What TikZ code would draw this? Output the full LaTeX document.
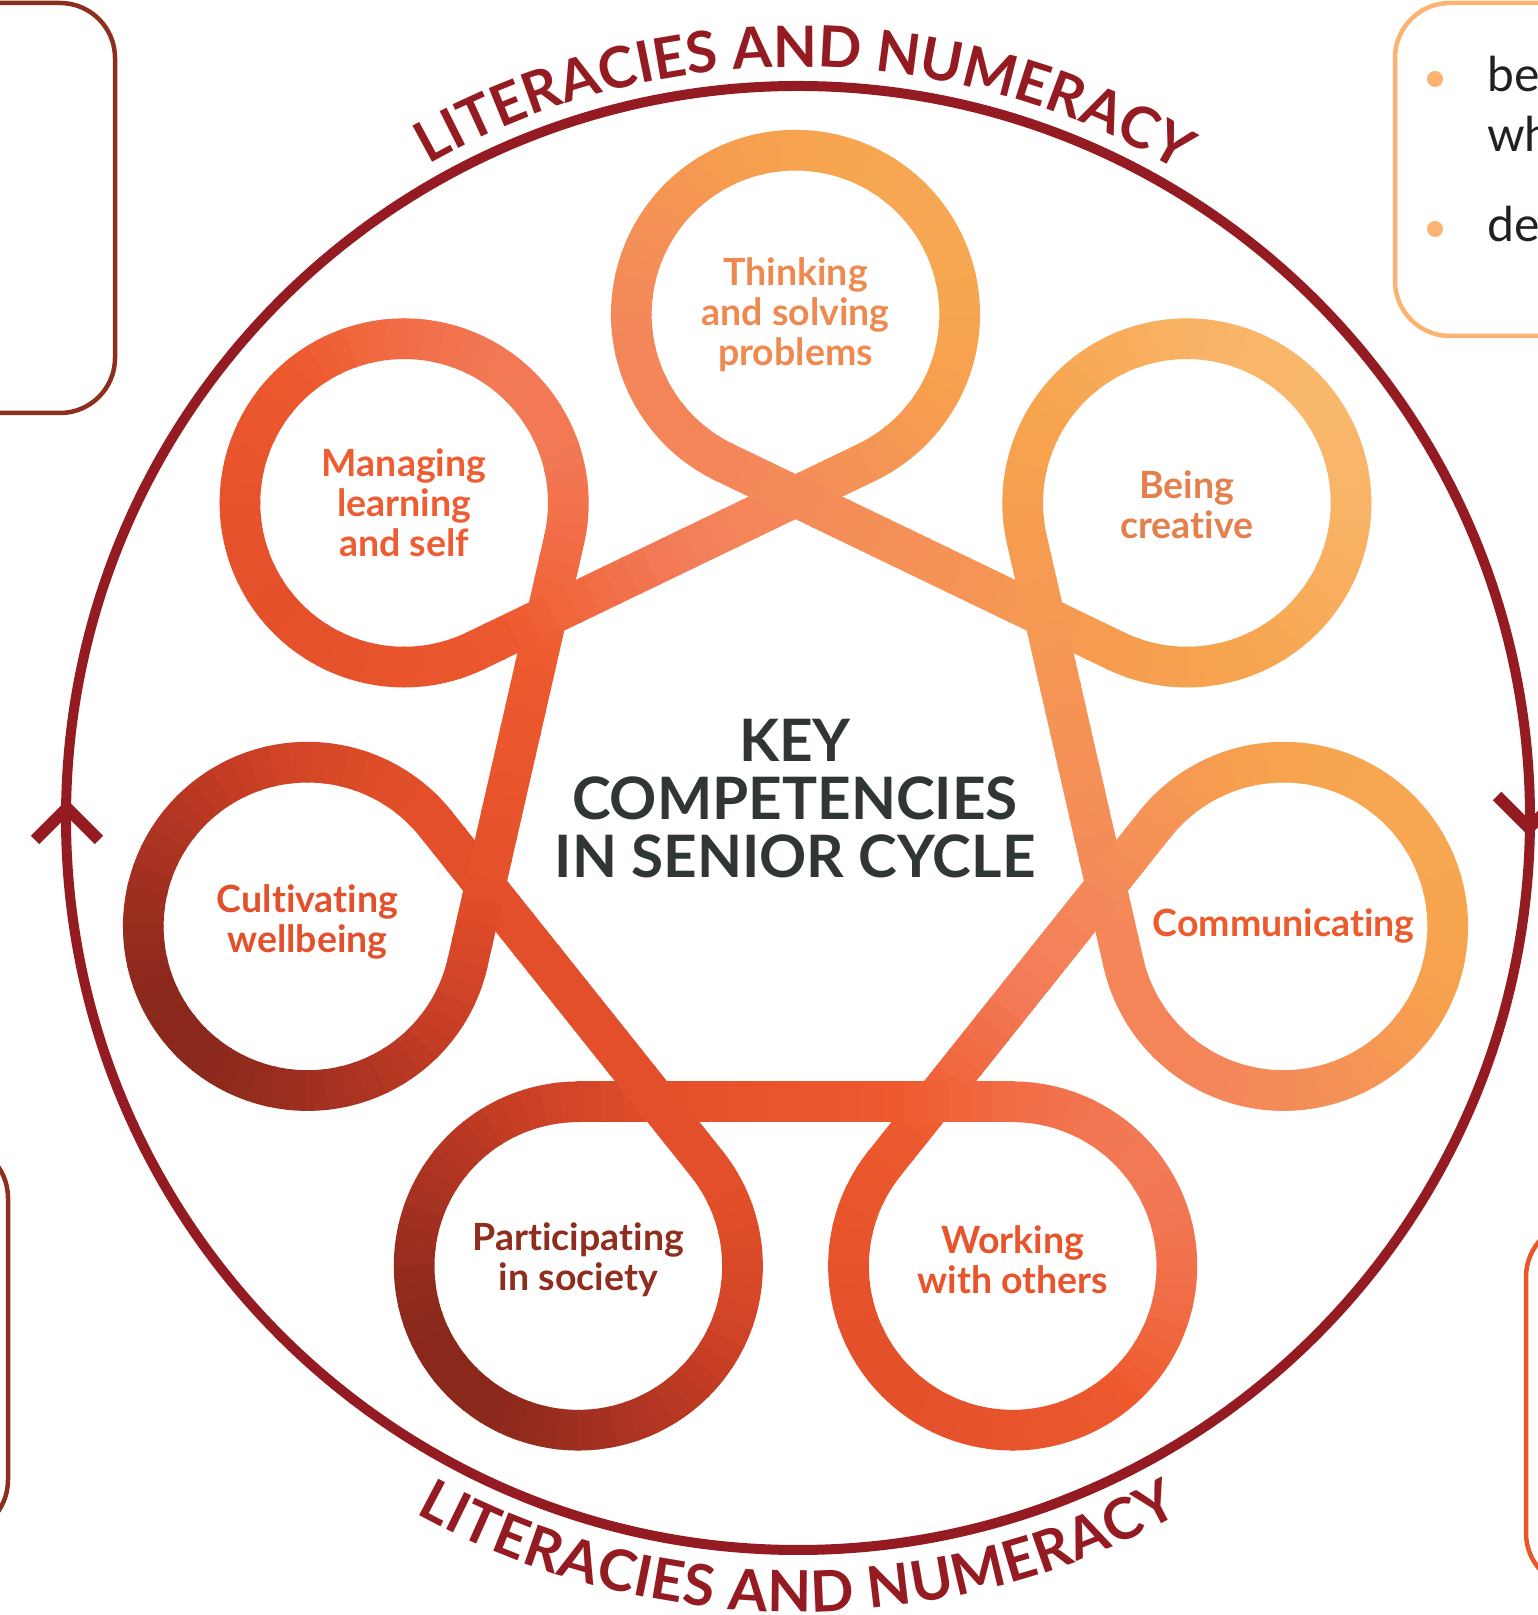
\documentclass[tikz,border=0pt]{standalone}
\usepackage{fontspec}
\setmainfont{Lato}[Ligatures=NoCommon]
\usetikzlibrary{decorations.text}
\definecolor{litred}{HTML}{951B22}
\definecolor{boxbrown}{HTML}{8C2F1D}
\definecolor{boxorange}{HTML}{FBB371}
\definecolor{boxred}{HTML}{E8562A}
\definecolor{titlegray}{HTML}{2F3635}
\definecolor{bodytext}{HTML}{231F20}
\definecolor{cThink}{HTML}{EE8A50}
\definecolor{cCreat}{HTML}{E5804C}
\definecolor{cComm}{HTML}{EC5B2E}
\definecolor{cWork}{HTML}{E8542B}
\definecolor{cPart}{HTML}{8F2D1E}
\definecolor{cCult}{HTML}{E2502C}
\definecolor{cMan}{HTML}{EE5C32}
% gradient stops of the ribbon
\definecolor{g0}{HTML}{7A2318}
\definecolor{g1}{HTML}{9E2F20}
\definecolor{g2}{HTML}{C43C24}
\definecolor{g3}{HTML}{E4502A}
\definecolor{g4}{HTML}{EE5A2E}
\definecolor{g5}{HTML}{F37B58}
\definecolor{g6}{HTML}{F48A5A}
\definecolor{g7}{HTML}{F6A04F}
\definecolor{g8}{HTML}{F7A54F}
\definecolor{g9}{HTML}{F9B86E}
\def\Ox{795.5}\def\Oy{800}\def\Rc{500.6}\def\rr{164.2}
\newcommand\mixrc[4]{\pgfmathsetmacro\rcp{(\sv-(#3))/((#4)-(#3))*100}\colorlet{rc}{#2!\rcp!#1}}
\newcommand\setrc[1]{%
 \pgfmathsetmacro\sv{max(-654,min(679,#1))}%
 \ifdim\sv pt<-560pt \mixrc{g0}{g1}{-655}{-560}\else
 \ifdim\sv pt<-420pt \mixrc{g1}{g2}{-560}{-420}\else
 \ifdim\sv pt<-280pt \mixrc{g2}{g3}{-420}{-280}\else
 \ifdim\sv pt<-105pt \mixrc{g3}{g4}{-280}{-105}\else
 \ifdim\sv pt<65pt \mixrc{g4}{g5}{-105}{65}\else
 \ifdim\sv pt<195pt \mixrc{g5}{g6}{65}{195}\else
 \ifdim\sv pt<380pt \mixrc{g6}{g7}{195}{380}\else
 \ifdim\sv pt<450pt \mixrc{g7}{g8}{380}{450}\else
 \mixrc{g8}{g9}{450}{680}\fi\fi\fi\fi\fi\fi\fi\fi}
\newcommand\ribseg[4]{%
 \foreach \j in {1,...,10}{%
  \pgfmathsetmacro\rsA{(\j-1)/10-0.006}%
  \pgfmathsetmacro\rsB{\j/10+0.006}%
  \pgfmathsetmacro\rsM{(\j-0.5)/10}%
  \pgfmathsetmacro\xa{(#1)+((#3)-(#1))*\rsA}%
  \pgfmathsetmacro\ya{(#2)+((#4)-(#2))*\rsA}%
  \pgfmathsetmacro\xb{(#1)+((#3)-(#1))*\rsB}%
  \pgfmathsetmacro\yb{(#2)+((#4)-(#2))*\rsB}%
  \pgfmathsetmacro\xm{(#1)+((#3)-(#1))*\rsM}%
  \pgfmathsetmacro\ym{(#2)+((#4)-(#2))*\rsM}%
  \setrc{0.778*(\xm-\Ox)+0.628*(\ym-\Oy)}%
  \draw[rib,draw=rc] (\xa,\ya) -- (\xb,\yb);
 }}
\newcommand\littext{\fontsize{57}{57}\selectfont\bfseries\color{litred}}
\tikzset{
 rib/.style={line width=40.7pt, line cap=butt},
 sidebox/.style={line width=4.5pt, rounded corners=55pt},
 lab/.style={font=\bfseries\fontsize{37.5}{40}\selectfont, align=center, inner sep=0pt},
 arrowmark/.style={litred, line width=12pt, line join=miter, line cap=butt},
 bodyline/.style={font=\fontsize{48}{60}\selectfont, text=bodytext, anchor=base west, inner sep=0pt}
}
\begin{document}
\begin{tikzpicture}[x=1pt,y=1pt]
\useasboundingbox (0,0) rectangle (1538,1615);
% side boxes (cut by the page edges)
\draw[sidebox, boxbrown] (-300,1612) rectangle (115,1202);
\draw[sidebox, boxorange] (1395,1612) rectangle (1900,1279);
\draw[sidebox, boxbrown] (-300,472) rectangle (8,80);
\draw[sidebox, boxred] (1526,393) rectangle (1900,27);
% bullets in the top-right box
\fill[boxorange] (1435,1536) circle[radius=8];
\fill[boxorange] (1435,1386) circle[radius=8];
\node[bodyline] (tb1) at (1487,1523) {be};
\node[bodyline] (tb2) at (1487,1463) {wh};
\node[bodyline] (tb3) at (1487,1373) {de};
% big circle with arrow marks
\draw[litred, line width=10pt] (798,797) circle[radius=732];
\coordinate (la1) at (35,775); \coordinate (la2) at (67,807); \coordinate (la3) at (99,775);
\draw[arrowmark] (la1) -- (la2) -- (la3);
\coordinate (ra1) at (1497,819); \coordinate (ra2) at (1529,787); \coordinate (ra3) at (1561,819);
\draw[arrowmark] (ra1) -- (ra2) -- (ra3);
% curved texts
\path[decorate, decoration={text along path, text={|\littext|LITERACIES AND NUMERACY}, text align={fit to path}}]
  (798,797) ++(119.5:751) arc[start angle=119.5, end angle=60.5, radius=751];
\path[decorate, decoration={text along path, text={|\littext|LITERACIES AND NUMERACY}, text align={fit to path}}]
  (798,797) ++(241.2:794) arc[start angle=241.2, end angle=298.8, radius=794];
% ribbon
\foreach \k in {0,...,6}{%
  \pgfmathsetmacro\ph{90-\k*360/7}%
  \pgfmathsetmacro\cx{\Ox+\Rc*cos(\ph)}%
  \pgfmathsetmacro\cy{\Oy+\Rc*sin(\ph)}%
  \pgfmathsetmacro\pcx{\Ox+\Rc*cos(\ph+360/7)}%
  \pgfmathsetmacro\pcy{\Oy+\Rc*sin(\ph+360/7)}%
  \pgfmathsetmacro\ncx{\Ox+\Rc*cos(\ph-360/7)}%
  \pgfmathsetmacro\ncy{\Oy+\Rc*sin(\ph-360/7)}%
  \pgfmathsetmacro\dxi{\rr*cos(\ph+205.7143)}%
  \pgfmathsetmacro\dyi{\rr*sin(\ph+205.7143)}%
  \pgfmathsetmacro\mix{(\pcx+\cx)/2+\dxi}%
  \pgfmathsetmacro\miy{(\pcy+\cy)/2+\dyi}%
  \pgfmathsetmacro\tix{\cx+\dxi}%
  \pgfmathsetmacro\tiy{\cy+\dyi}%
  \ribseg{\mix}{\miy}{\tix}{\tiy}%
  \foreach \i in {1,...,48}{%
    \pgfmathsetmacro\angA{\ph+205.7143+(\i-1)*6.428571-0.35}%
    \pgfmathsetmacro\angB{\ph+205.7143+\i*6.428571+0.35}%
    \pgfmathsetmacro\angM{(\angA+\angB)/2}%
    \setrc{0.778*(\cx+\rr*cos(\angM)-\Ox)+0.628*(\cy+\rr*sin(\angM)-\Oy)}%
    \draw[rib,draw=rc] ({\cx+\rr*cos(\angA)},{\cy+\rr*sin(\angA)}) arc[start angle=\angA,end angle=\angB,radius=\rr];
  }%
  \pgfmathsetmacro\dxo{\rr*cos(\ph+154.2857)}%
  \pgfmathsetmacro\dyo{\rr*sin(\ph+154.2857)}%
  \pgfmathsetmacro\tox{\cx+\dxo}%
  \pgfmathsetmacro\toy{\cy+\dyo}%
  \pgfmathsetmacro\mox{(\ncx+\cx)/2+\dxo}%
  \pgfmathsetmacro\moy{(\ncy+\cy)/2+\dyo}%
  \ribseg{\tox}{\toy}{\mox}{\moy}%
}
% labels
\node[lab, text=cThink] (think) at (795.5,1300.6) {Thinking\\and solving\\problems};
\node[lab, text=cCreat] (creat) at (1186.9,1110) {Being\\creative};
\node[lab, text=cComm] (comm) at (1283.5,688.6) {Communicating};
\node[lab, text=cWork] (work) at (1012.7,355) {Working\\with others};
\node[lab, text=cPart] (part) at (578.3,355) {Participating\\in society};
\node[lab, text=cCult] (cult) at (307.5,693) {Cultivating\\wellbeing};
\node[lab, text=cMan] (man) at (404.1,1112.1) {Managing\\learning\\and self};
\node[font=\bfseries\fontsize{58.5}{58}\selectfont, text=titlegray, align=center, inner sep=0pt] (title) at (795,816) {KEY\\COMPETENCIES\\IN SENIOR CYCLE};
\end{tikzpicture}
\end{document}
